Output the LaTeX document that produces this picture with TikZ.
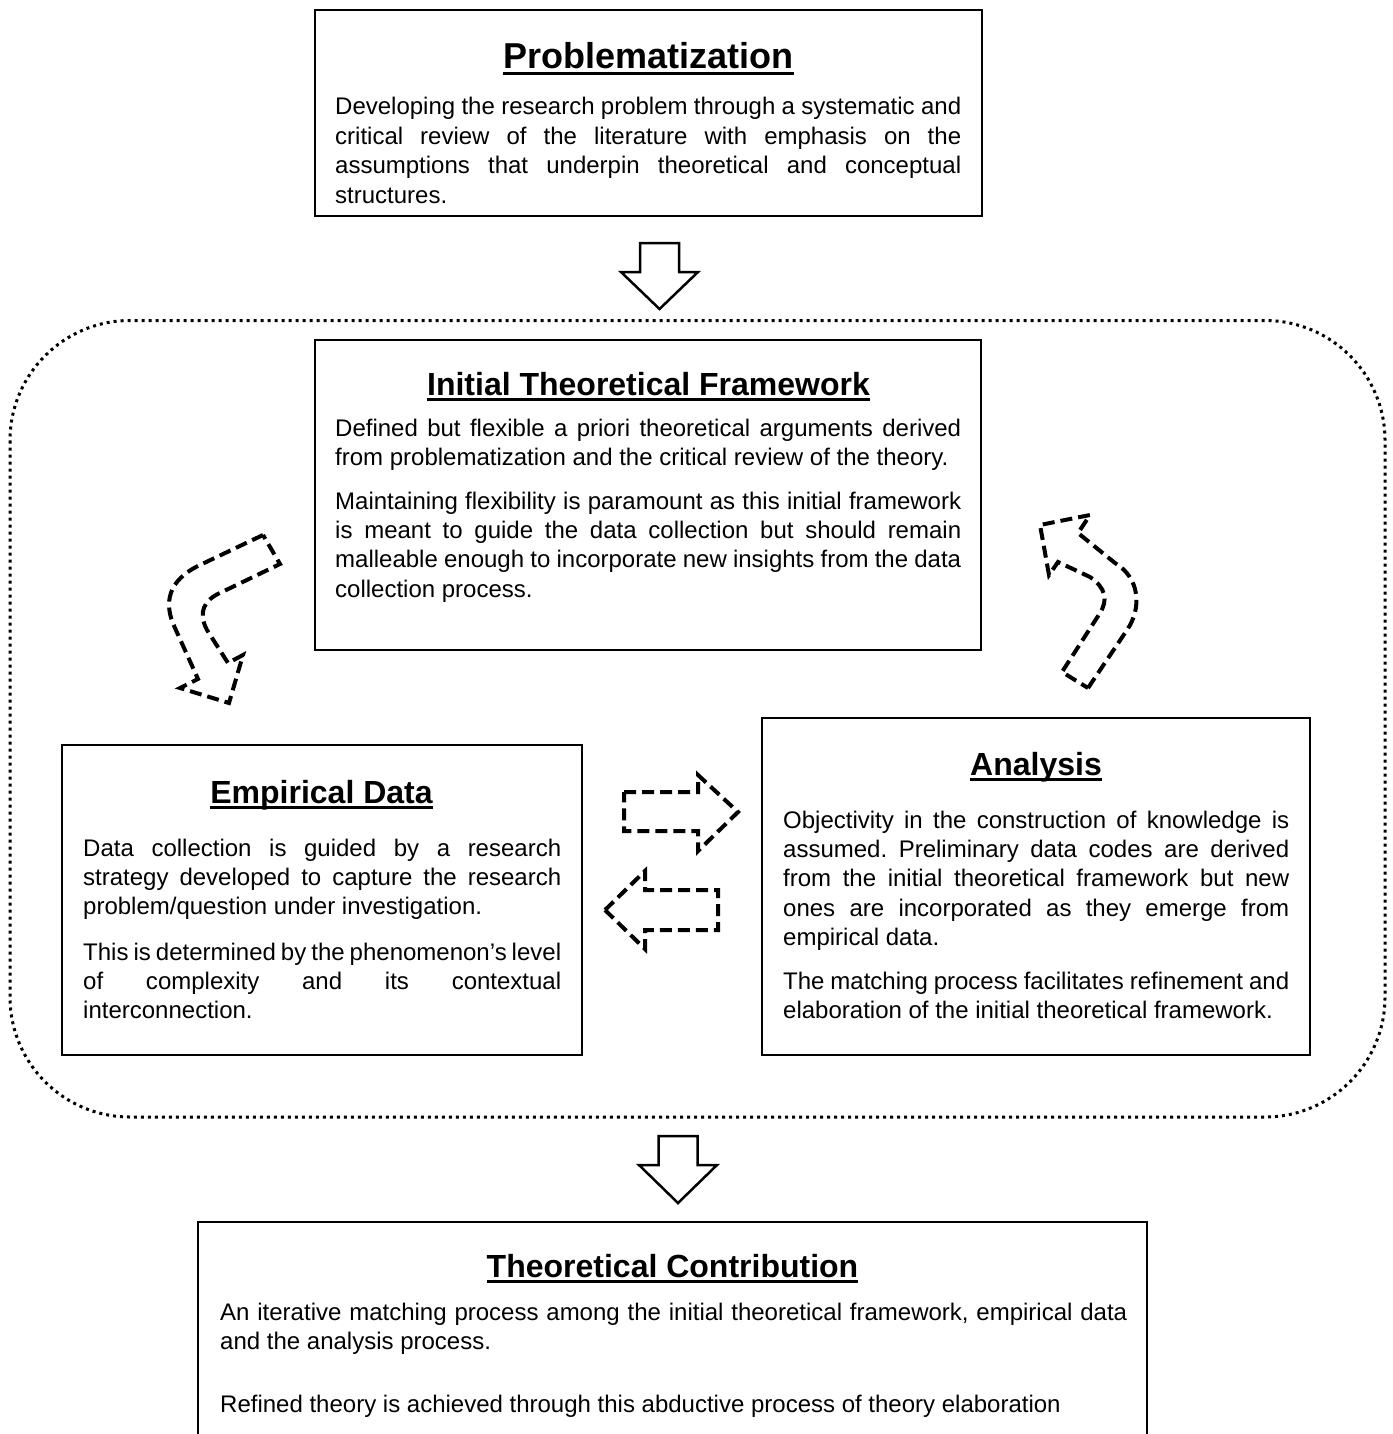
\documentclass[tikz,border=0pt]{standalone}
\usepackage{fontspec}
\setmainfont{Liberation Sans}
\tolerance=10000
\hbadness=10000
\hyphenpenalty=10000
\exhyphenpenalty=10000
\frenchspacing
\begin{document}
\begin{tikzpicture}[x=1pt,y=-1pt,
  box/.style={draw, line width=2pt, inner sep=0pt},
  ttl/.style={font=\fontsize{32}{38}\selectfont\bfseries, inner sep=0pt, anchor=base},
  body/.style={font=\fontsize{24}{29.4}\selectfont, inner sep=0pt, anchor=base west, align=justify},
  uline/.style={line width=3pt},
  blockarrow/.style={draw, line width=2.5pt, line join=miter, fill=white},
  dasharrow/.style={draw, line width=4pt, dash pattern=on 12pt off 6pt, line join=miter},
  loopframe/.style={draw, line width=3pt, dash pattern=on 3pt off 4pt, rounded corners=120pt}
]
\useasboundingbox (0,0) rectangle (1392,1434);
\clip (0,0) rectangle (1392,1434);

% dotted frame around the iterative loop
\draw[loopframe] (10,320.5) rectangle (1385,1117);

% boxes
\node[box, minimum width=667pt, minimum height=206pt] (probbox) at (648.5,113) {};
\node[box, minimum width=666pt, minimum height=310pt] (itfbox) at (648,495) {};
\node[box, minimum width=520pt, minimum height=310pt] (empbox) at (322,900) {};
\node[box, minimum width=548pt, minimum height=337pt] (anabox) at (1036,886.5) {};
\node[box, minimum width=949pt, minimum height=278pt] (tcbox) at (672.5,1361) {};

% titles
\node[ttl, font=\fontsize{36}{42}\selectfont\bfseries] (probT) at (648.5,69) {Problematization};
\node[ttl] (itfT) at (648.5,395) {Initial Theoretical Framework};
\node[ttl] (empT) at (321.5,803) {Empirical Data};
\node[ttl] (anaT) at (1036,775) {Analysis};
\node[ttl] (tcT) at (672.5,1277) {Theoretical Contribution};
\foreach \t in {probT,itfT,empT,anaT,tcT}
  \draw[uline] ([yshift=-4.5pt]\t.base west) -- ([yshift=-4.5pt]\t.base east);

% body texts
\node[body, text width=626pt] (probP) at (335,115) {Developing the research problem through a systematic and\linebreak
critical review of the literature with emphasis on the\linebreak
assumptions that underpin theoretical and conceptual\linebreak
structures.};

\node[body, text width=626pt] (itfP1) at (335,436) {Defined but flexible a priori theoretical arguments derived\linebreak
from problematization and the critical review of the theory.};
\node[body, text width=626pt] (itfP2) at (335,509) {Maintaining flexibility is paramount as this initial framework\linebreak
is meant to guide the data collection but should remain\linebreak
malleable enough to incorporate new insights from the data\linebreak
collection process.};

\node[body, text width=478pt] (empP1) at (83,856) {Data collection is guided by a research\linebreak
strategy developed to capture the research\linebreak
problem/question under investigation.};
\node[body, text width=478pt] (empP2) at (83,960) {This is determined by the phenomenon’s level\linebreak
of complexity and its contextual\linebreak
interconnection.};

\node[body, text width=506pt] (anaP1) at (783,828) {Objectivity in the construction of knowledge is\linebreak
assumed. Preliminary data codes are derived\linebreak
from the initial theoretical framework but new\linebreak
ones are incorporated as they emerge from\linebreak
empirical data.};
\node[body, text width=506pt] (anaP2) at (783,989) {The matching process facilitates refinement and\linebreak
elaboration of the initial theoretical framework.};

\node[body, text width=907pt] (tcP1) at (220,1320) {An iterative matching process among the initial theoretical framework, empirical data\linebreak
and the analysis process.};
\node[body, text width=907pt] (tcP2) at (220,1412) {Refined theory is achieved through this abductive process of theory elaboration};

% solid block arrows between stages
\draw[blockarrow] (640,243) -- (679,243) -- (679,272) -- (698,272) -- (659.5,309) -- (621,272) -- (640,272) -- cycle;
\draw[blockarrow] (658.5,1136) -- (697.5,1136) -- (697.5,1165) -- (717,1165) -- (678,1203) -- (639,1165) -- (658.5,1165) -- cycle;

% dashed exchange arrows
\draw[dasharrow] (624,792) -- (698,792) -- (698,775) -- (738,812) -- (698,851) -- (698,831) -- (624,831) -- cycle;
\draw[dasharrow] (605,910) -- (645,871) -- (645,890) -- (718,890) -- (718,930) -- (645,930) -- (645,949) -- cycle;

% dashed curved arrows of the loop
\draw[dasharrow] (263,535) -- (200,565) .. controls (168,580) and (163,603) .. (175,628) -- (198,679) -- (180,688) -- (229,703) -- (243,655) -- (228,663) -- (207,630) .. controls (198,613) and (203,600) .. (222,592) -- (280,564) -- cycle;
\draw[dasharrow] (1088,688) -- (1127,630) .. controls (1142,608) and (1140,578) .. (1115,563) -- (1078,533) -- (1090,515) -- (1040,525) -- (1049,575) -- (1058,562) -- (1090,577) .. controls (1106,588) and (1108,600) .. (1100,613) -- (1062,672) -- cycle;
\end{tikzpicture}
\end{document}
